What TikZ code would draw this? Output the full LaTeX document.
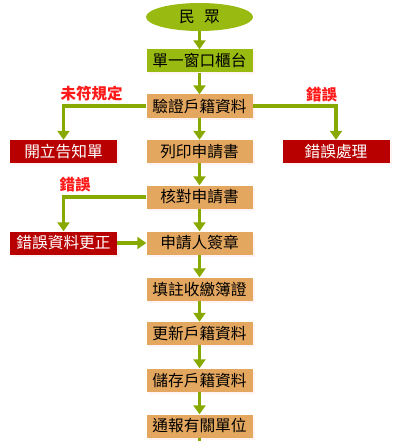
\documentclass[tikz,border=0pt]{standalone}
\usepackage{fontspec}
\newfontfamily\cjk{Noto Sans CJK TC}
\usetikzlibrary{arrows.meta,shapes.geometric,shadows}
\definecolor{boxgreen}{HTML}{99BB11}
\definecolor{boxorange}{HTML}{E3A760}
\definecolor{boxred}{HTML}{B80000}
\definecolor{arrowgreen}{HTML}{88AA00}
\definecolor{labelred}{HTML}{FF1A1A}
\begin{document}
\begin{tikzpicture}[x=1pt,y=-1pt,
  txt/.style={font=\cjk\fontsize{15.7}{17}\selectfont},
  basebox/.style={txt, rectangle, minimum width=106pt, minimum height=23pt, inner sep=0pt,
    drop shadow={opacity=0.12, shadow xshift=2pt, shadow yshift=-2pt, fill=red!40}},
  greenbox/.style={basebox, fill=boxgreen, text=black},
  orangebox/.style={basebox, fill=boxorange, text=black},
  redbox/.style={basebox, fill=boxred, text=white, minimum width=107pt},
  startnode/.style={txt, ellipse, fill=boxgreen, minimum width=107pt, minimum height=28pt, inner sep=0pt},
  lbl/.style={font=\cjk\bfseries\fontsize{15.5}{17}\selectfont, text=labelred, inner sep=0pt},
  flow/.style={draw=arrowgreen, line width=3.6pt, -{Triangle[width=12pt,length=9pt]}},
  plain/.style={draw=arrowgreen, line width=3.6pt}
]
\useasboundingbox (0,0) rectangle (400,441);
\node[startnode] (e) at (199.5,17) {民\hspace{0.6em}眾};
\node[greenbox] (n1) at (199.5,61) {單一窗口櫃台};
\node[orangebox] (n2) at (199.5,106) {驗證戶籍資料};
\node[orangebox] (n3) at (199.5,151.5) {列印申請書};
\node[orangebox] (n4) at (199.5,197) {核對申請書};
\node[orangebox] (n5) at (199.5,243) {申請人簽章};
\node[orangebox] (n6) at (199.5,289) {填註收繳簿證};
\node[orangebox] (n7) at (199.5,333.5) {更新戶籍資料};
\node[orangebox] (n8) at (199.5,380) {儲存戶籍資料};
\node[orangebox] (n9) at (199.5,426) {通報有關單位};
\node[redbox] (r1) at (63.5,151.5) {開立告知單};
\node[redbox] (r2) at (336,151.5) {錯誤處理};
\node[redbox] (r3) at (63.5,243) {錯誤資料更正};
\coordinate (end) at (199.5,441);

\node[lbl] (l1) at (91.5,94) {未符規定};
\node[lbl] (l2) at (321.5,95) {錯誤};
\node[lbl] (l3) at (75,185) {錯誤};

\draw[flow] (e) -- (n1);
\draw[flow] (n1) -- (n2);
\draw[flow] (n2) -- (n3);
\draw[flow] (n3) -- (n4);
\draw[flow] (n4) -- (n5);
\draw[flow] (n5) -- (n6);
\draw[flow] (n6) -- (n7);
\draw[flow] (n7) -- (n8);
\draw[flow] (n8) -- (n9);
\draw[plain] (n9) -- (end);
\draw[flow] (n2.west) -| (r1.north);
\draw[flow] (n2.east) -| (r2.north);
\draw[flow] (n4.west) -| (r3.north);
\draw[flow] (r3) -- (n5);
\end{tikzpicture}
\end{document}
